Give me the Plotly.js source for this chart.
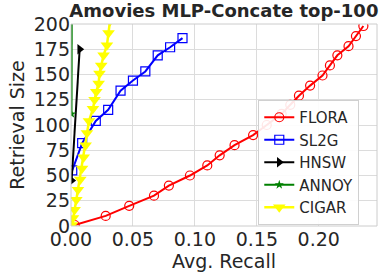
<!DOCTYPE html>
<html>
<head>
<meta charset="utf-8">
<script src="https://cdn.plot.ly/plotly-3.0.1.min.js"></script>
<style>html,body{margin:0;padding:0;background:#fff;}#chart{width:388px;height:278px;}</style>
</head>
<body>
<div id="chart"></div>
<script>
var floraX = [0.003, 0.028, 0.047, 0.067, 0.079, 0.096, 0.110, 0.120, 0.132, 0.147, 0.158, 0.170, 0.177, 0.184, 0.193, 0.203, 0.209, 0.215, 0.224, 0.230, 0.236];
var floraY = [1, 10, 20, 30, 40, 50, 60, 70, 80, 90, 100, 111, 120, 129, 139, 149, 159, 169, 178, 188, 198];

var sl2gX = [0.001, 0.009, 0.020, 0.030, 0.040, 0.050, 0.060, 0.070, 0.080, 0.090];
var sl2gY = [55, 82, 104, 115, 134, 144, 153, 169, 177, 186];

var hnswX = [0.0005, 0.007];
var hnswY = [45, 175];

var annoyX = [0.0004, 0.0006];
var annoyY = [111, 215];

var cigarX = [0.0008, 0.0016, 0.0029, 0.0043, 0.0056, 0.0075, 0.0089, 0.0102, 0.0118, 0.0129, 0.0145, 0.0177, 0.0190, 0.0204, 0.0223, 0.0230, 0.0244, 0.0263, 0.0290, 0.0303, 0.0315];
var cigarY = [1, 8, 16, 26, 36, 46, 57, 68, 80, 92, 104, 116, 125, 133, 141, 151, 159, 169, 179, 191, 203];

var seriesNames = ['FLORA', 'SL2G', 'HNSW', 'ANNOY', 'CIGAR'];

var traces = [
  {x: floraX, y: floraY, name: seriesNames[0], mode: 'lines+markers',
   line: {color: '#ff0000', width: 2},
   marker: {symbol: 'circle-open', size: 9, color: '#ff0000', line: {width: 1.2}}},
  {x: sl2gX, y: sl2gY, name: seriesNames[1], mode: 'lines+markers',
   line: {color: '#0000ff', width: 2},
   marker: {symbol: 'square-open', size: 9, color: '#0000ff', line: {width: 1.2}}},
  {x: hnswX, y: hnswY, name: seriesNames[2], mode: 'lines+markers',
   line: {color: '#000000', width: 2},
   marker: {symbol: 'triangle-right', size: 9, color: '#000000'}},
  {x: annoyX, y: annoyY, name: seriesNames[3], mode: 'lines+markers',
   line: {color: '#008000', width: 2},
   marker: {symbol: 'star', size: 7, color: '#008000'}},
  {x: cigarX, y: cigarY, name: seriesNames[4], mode: 'lines+markers',
   line: {color: '#ffff00', width: 2.5},
   marker: {symbol: 'triangle-down', size: 11, color: '#ffff00'}}
];

var fontFam = 'DejaVu Sans, sans-serif';
var layout = {
  width: 388, height: 278,
  margin: {l: 71, r: 11, t: 24, b: 52},
  paper_bgcolor: '#ffffff', plot_bgcolor: '#ffffff',
  font: {family: fontFam, size: 19, color: '#262626'},
  title: {text: '<b>Amovies MLP-Concate top-100</b>', font: {family: fontFam, size: 18, color: '#262626'},
          x: 0.577, xanchor: 'center', y: 0.96, yanchor: 'middle'},
  xaxis: {range: [0, 0.247], dtick: 0.05, tick0: 0, tickformat: '.2f',
          showgrid: true, gridcolor: '#dcdcdc', gridwidth: 1, zeroline: false,
          showline: false, ticks: '', ticklen: 0, tickfont: {size: 19},
          title: {text: 'Avg. Recall', font: {size: 19}, standoff: 2}},
  yaxis: {range: [0, 200], dtick: 25, tick0: 0,
          showgrid: true, gridcolor: '#dcdcdc', gridwidth: 1, zeroline: false,
          showline: false, ticks: '', ticklen: 0, tickfont: {size: 19},
          title: {text: 'Retrieval Size', font: {size: 19}, standoff: 4}},
  showlegend: true,
  legend: {x: 0.612, xanchor: 'left', y: 0.005, yanchor: 'bottom',
           bgcolor: 'rgba(255,255,255,0.9)', bordercolor: '#d0d0d0', borderwidth: 1,
           font: {size: 15, color: '#262626'}, tracegroupgap: 0, itemwidth: 30},
  shapes: [{type: 'rect', xref: 'paper', yref: 'paper', x0: 0, x1: 1, y0: 0, y1: 1,
            line: {color: '#cccccc', width: 1}, layer: 'above'}]
};

Plotly.newPlot('chart', traces, layout, {displayModeBar: false, staticPlot: true});
</script>
</body>
</html>
